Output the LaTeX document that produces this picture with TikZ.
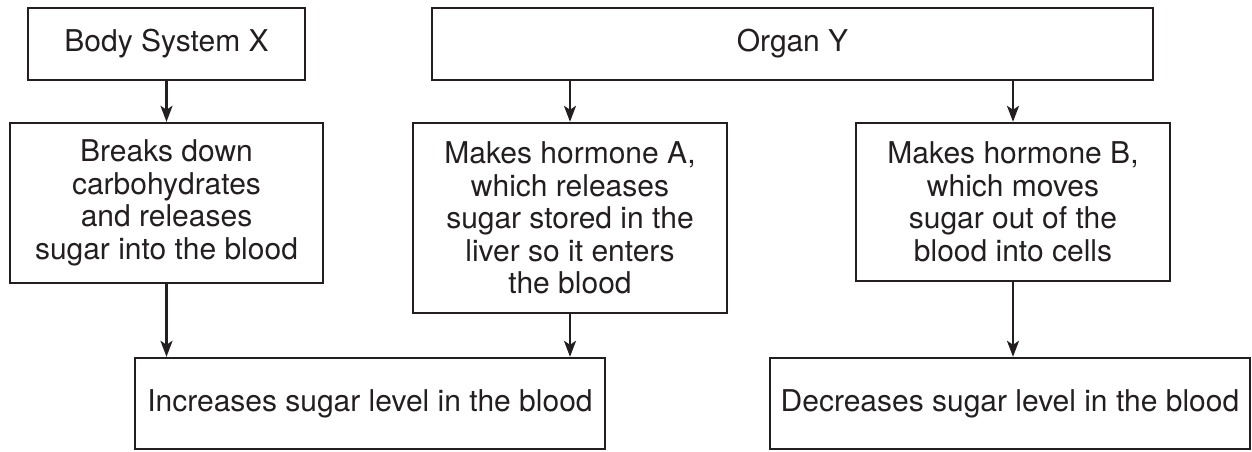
\documentclass[tikz,border=0pt]{standalone}
\usepackage{fontspec}
\setmainfont{TeX Gyre Heros}
\usetikzlibrary{arrows.meta}
\definecolor{ink}{HTML}{231F20}
\begin{document}
\begin{tikzpicture}[x=1pt,y=-1pt,
  box/.style={draw=ink, line width=2.4pt, rectangle, inner sep=0pt, align=center,
    font=\fontsize{30}{32.5}\selectfont, text=ink},
  arr/.style={draw=ink, line width=2.4pt, -{Stealth[length=16pt,width=12pt,inset=4pt]}}]
\useasboundingbox (0,0) rectangle (1252,451);
\node[box, minimum width=277pt, minimum height=72pt] (bx) at (166.5,44) {Body System X};
\node[box, minimum width=721pt, minimum height=72pt] (oy) at (792.5,44) {Organ Y};
\node[box, minimum width=313pt, minimum height=160pt] (br) at (166.5,203)
  {Breaks down\\carbohydrates\\and releases\\sugar into the blood};
\node[box, minimum width=314pt, minimum height=190pt] (ha) at (570,218)
  {Makes hormone A,\\which releases\\sugar stored in the\\liver so it enters\\the blood};
\node[box, minimum width=314pt, minimum height=158pt] (hb) at (1013,202)
  {Makes hormone B,\\which moves\\sugar out of the\\blood into cells};
\node[box, minimum width=470pt, minimum height=91pt] (inc) at (370,403.5)
  {Increases sugar level in the blood};
\node[box, minimum width=480pt, minimum height=91pt] (dec) at (1010,403.5)
  {Decreases sugar level in the blood};
\draw[arr] (bx.south) -- (br.north);
\draw[arr] (oy.south -| ha.north) -- (ha.north);
\draw[arr] (oy.south -| hb.north) -- (hb.north);
\draw[arr] (br.south) -- (br.south |- inc.north);
\draw[arr] (ha.south) -- (ha.south |- inc.north);
\draw[arr] (hb.south) -- (hb.south |- dec.north);
\end{tikzpicture}
\end{document}
